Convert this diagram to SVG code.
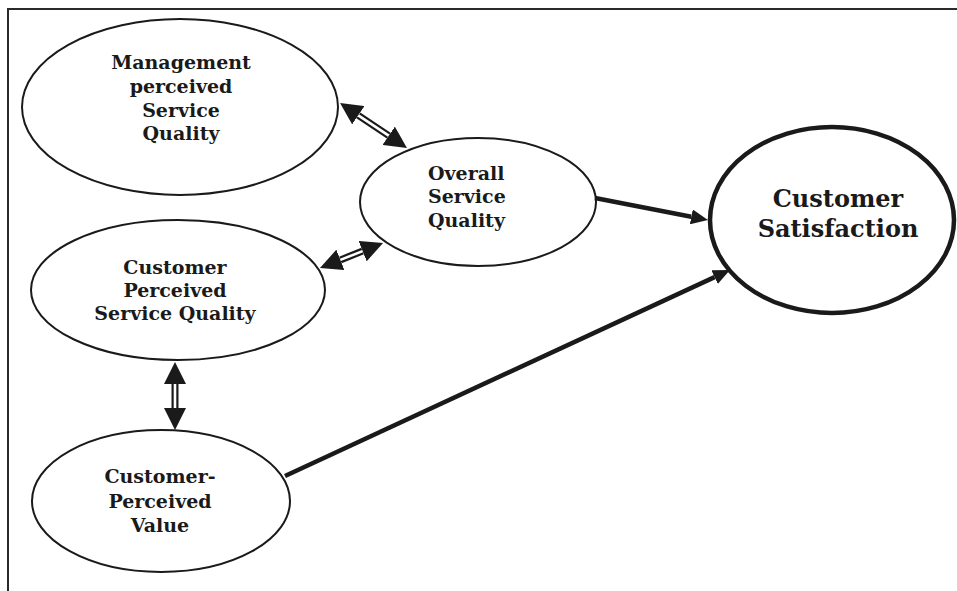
<svg xmlns="http://www.w3.org/2000/svg" width="957" height="591" viewBox="0 0 957 591">
<style>
.n{fill:#fff;stroke:#1a1a1a;stroke-width:2}
.big{stroke-width:4.5}
.t{font-family:"DejaVu Serif","Liberation Serif",serif;font-weight:bold;font-size:19px;fill:#1a1a1a;text-anchor:middle}
.tb{font-size:24px}
.sh{stroke:#1a1a1a;stroke-width:7;fill:none}
.sw{stroke:#fff;stroke-width:2.6;fill:none}
.ar{stroke:#1a1a1a;stroke-width:4.5;fill:none}
</style>
<defs>
<marker id="dh" markerUnits="userSpaceOnUse" markerWidth="22" markerHeight="22" refX="0" refY="11" orient="auto-start-reverse" viewBox="0 0 22 22">
<path d="M0,0 L22,11 L0,22 z" fill="#1a1a1a"/>
</marker>
<marker id="sh" markerUnits="userSpaceOnUse" markerWidth="17" markerHeight="15" refX="0" refY="7.5" orient="auto" viewBox="0 0 17 15">
<path d="M0,0 L17,7.5 L0,15 z" fill="#1a1a1a"/>
</marker>
</defs>
<rect width="957" height="591" fill="#fff"/>
<path d="M8,591 V9 H957" fill="none" stroke="#2a2a2a" stroke-width="2"/>

<g id="management">
<ellipse class="n" cx="180" cy="107" rx="158" ry="88"/>
<text class="t" x="181" y="69">Management</text>
<text class="t" x="181" y="93">perceived</text>
<text class="t" x="181" y="117">Service</text>
<text class="t" x="181" y="140">Quality</text>
</g>

<g id="overall">
<ellipse class="n" cx="478" cy="202" rx="118" ry="64"/>
<text class="t" x="428" y="180" style="text-anchor:start">Overall</text>
<text class="t" x="428" y="203" style="text-anchor:start">Service</text>
<text class="t" x="428" y="227" style="text-anchor:start">Quality</text>
</g>

<g id="satisfaction">
<ellipse class="n big" cx="832" cy="220" rx="122" ry="93"/>
<text class="t tb" x="838" y="207">Customer</text>
<text class="t tb" x="838" y="237">Satisfaction</text>
</g>

<g id="cpsq">
<ellipse class="n" cx="178" cy="290" rx="147" ry="70"/>
<text class="t" x="175" y="274">Customer</text>
<text class="t" x="175" y="297">Perceived</text>
<text class="t" x="175" y="320">Service Quality</text>
</g>

<g id="value">
<ellipse class="n" cx="161" cy="501" rx="129" ry="71"/>
<text class="t" x="160" y="483">Customer-</text>
<text class="t" x="160" y="508">Perceived</text>
<text class="t" x="160" y="532">Value</text>
</g>

<g id="connectors">
<line class="sh" x1="358.3" y1="115.3" x2="388.7" y2="135.7" marker-start="url(#dh)" marker-end="url(#dh)"/>
<line class="sw" x1="358.3" y1="115.3" x2="388.7" y2="135.7"/>
<line class="sh" x1="340.4" y1="259.9" x2="362.6" y2="251.1" marker-start="url(#dh)" marker-end="url(#dh)"/>
<line class="sw" x1="340.4" y1="259.9" x2="362.6" y2="251.1"/>
<line class="sh" x1="175" y1="384" x2="175" y2="408" marker-start="url(#dh)" marker-end="url(#dh)"/>
<line class="sw" x1="175" y1="384" x2="175" y2="408"/>
<line class="ar" x1="595" y1="198" x2="691.3" y2="216.8" marker-end="url(#sh)"/>
<line class="ar" x1="285" y1="476" x2="714.6" y2="277.1" marker-end="url(#sh)"/>
</g>
</svg>
